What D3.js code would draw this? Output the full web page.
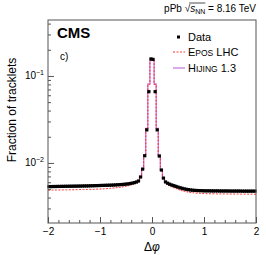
<!DOCTYPE html>
<html>
<head>
<meta charset="utf-8">
<script src="https://cdn.jsdelivr.net/npm/d3@7"></script>
<style>
  body { margin: 0; background: #fff; }
  svg text { font-family: "Liberation Sans", Arial, sans-serif; fill: #000; }
</style>
</head>
<body>
<svg id="chart" width="266" height="255"></svg>
<script>
// bin edges: 100 bins of 0.04 between -2 and 2
var binLo = -2, binW = 0.04;

// measured data, left half (-1.98 .. -0.02) then right half (0.02 .. 1.98)
var dataVals = [
  0.00535, 0.00535, 0.00536, 0.00536, 0.00537, 0.00537, 0.00538, 0.00538, 0.00539, 0.00539,
  0.00540, 0.00540, 0.00541, 0.00541, 0.00542, 0.00542, 0.00543, 0.00544, 0.00544, 0.00545,
  0.00546, 0.00547, 0.00548, 0.00549, 0.00550, 0.00551, 0.00552, 0.00553, 0.00554, 0.00555,
  0.00556, 0.00557, 0.00559, 0.00561, 0.00563, 0.00565, 0.00568, 0.00571, 0.00575, 0.00580,
  0.00586, 0.00594, 0.00604, 0.00620, 0.0069, 0.0085, 0.0121, 0.024, 0.066, 0.157,
  0.155, 0.066, 0.024, 0.0120, 0.0083, 0.0067, 0.00605, 0.00585, 0.00570, 0.00558,
  0.00548, 0.00538, 0.00528, 0.00519, 0.00511, 0.00504, 0.00498, 0.00493, 0.00489, 0.00486,
  0.00484, 0.00482, 0.00481, 0.00480, 0.00479, 0.00478, 0.00478, 0.00478, 0.00477, 0.00477,
  0.00477, 0.00477, 0.00476, 0.00476, 0.00476, 0.00476, 0.00476, 0.00475, 0.00475, 0.00475,
  0.00475, 0.00475, 0.00475, 0.00474, 0.00474, 0.00474, 0.00474, 0.00474, 0.00474, 0.00474
];
var eposVals = [
  0.00488, 0.00488, 0.00488, 0.00489, 0.00489, 0.00489, 0.00490, 0.00490, 0.00490, 0.00491,
  0.00491, 0.00492, 0.00492, 0.00493, 0.00493, 0.00494, 0.00494, 0.00495, 0.00495, 0.00496,
  0.00497, 0.00498, 0.00499, 0.00500, 0.00501, 0.00502, 0.00504, 0.00506, 0.00508, 0.00510,
  0.00512, 0.00515, 0.00518, 0.00521, 0.00525, 0.00529, 0.00534, 0.00540, 0.00547, 0.00555,
  0.00565, 0.00577, 0.00592, 0.00612, 0.0068, 0.0084, 0.0122, 0.025, 0.080, 0.150,
  0.150, 0.080, 0.025, 0.0122, 0.0083, 0.0066, 0.00595, 0.00570, 0.00550, 0.00533,
  0.00519, 0.00507, 0.00497, 0.00488, 0.00480, 0.00473, 0.00467, 0.00462, 0.00458, 0.00455,
  0.00452, 0.00450, 0.00448, 0.00446, 0.00445, 0.00444, 0.00443, 0.00443, 0.00442, 0.00442,
  0.00441, 0.00441, 0.00441, 0.00440, 0.00440, 0.00440, 0.00440, 0.00439, 0.00439, 0.00439,
  0.00439, 0.00439, 0.00438, 0.00438, 0.00438, 0.00438, 0.00438, 0.00438, 0.00437, 0.00437
];
var hijingVals = [
  0.00530, 0.00530, 0.00531, 0.00531, 0.00532, 0.00532, 0.00533, 0.00533, 0.00534, 0.00534,
  0.00535, 0.00535, 0.00536, 0.00536, 0.00537, 0.00537, 0.00538, 0.00539, 0.00539, 0.00540,
  0.00541, 0.00542, 0.00543, 0.00544, 0.00545, 0.00546, 0.00547, 0.00548, 0.00549, 0.00550,
  0.00551, 0.00553, 0.00555, 0.00557, 0.00559, 0.00561, 0.00564, 0.00567, 0.00571, 0.00576,
  0.00582, 0.00590, 0.00601, 0.00617, 0.0069, 0.0086, 0.0124, 0.025, 0.081, 0.152,
  0.152, 0.081, 0.025, 0.0123, 0.0084, 0.0067, 0.00603, 0.00582, 0.00567, 0.00555,
  0.00545, 0.00535, 0.00525, 0.00516, 0.00508, 0.00501, 0.00495, 0.00490, 0.00486, 0.00483,
  0.00481, 0.00479, 0.00478, 0.00477, 0.00476, 0.00475, 0.00475, 0.00475, 0.00474, 0.00474,
  0.00474, 0.00474, 0.00473, 0.00473, 0.00473, 0.00473, 0.00473, 0.00472, 0.00472, 0.00472,
  0.00472, 0.00472, 0.00472, 0.00471, 0.00471, 0.00471, 0.00471, 0.00471, 0.00471, 0.00471
];
var xMajor = [-2, -1, 0, 1, 2];
var yMajor = [0.1, 0.01];
var yLabels = ["\u22121", "\u22122"];

var svg = d3.select("#chart");
var x = d3.scaleLinear().domain([-2, 2]).range([48, 256]);
var y = d3.scaleLog().domain([0.00204, 0.44]).range([223, 20]);

// histogram as steps
function steps(vals) {
  var pts = [];
  vals.forEach(function(v, i) {
    pts.push([binLo + i * binW, v]);
    pts.push([binLo + (i + 1) * binW, v]);
  });
  return pts;
}
var line = d3.line().x(function(d) { return x(d[0]); }).y(function(d) { return y(d[1]); });

var plot = svg.append("g");
plot.append("path").attr("d", line(steps(hijingVals)))
  .attr("fill", "none").attr("stroke", "#c97ee0").attr("stroke-width", 1.3);
plot.append("path").attr("d", line(steps(eposVals)))
  .attr("fill", "none").attr("stroke", "#ff2020").attr("stroke-width", 0.9)
  .attr("stroke-dasharray", "2,1.5");

plot.selectAll("rect.pt").data(dataVals).enter().append("rect")
  .attr("class", "pt")
  .attr("x", function(d, i) { return x(binLo + (i + 0.5) * binW) - 1.6; })
  .attr("y", function(d) { return y(d) - 1.6; })
  .attr("width", 3.2).attr("height", 3.2).attr("fill", "#000");

// axes, ticks pointing inside
var axCol = "#555";
var gx = svg.append("g").attr("transform", "translate(0,223)");
gx.call(d3.axisBottom(x).tickValues(d3.range(-2, 2.001, 0.2)).tickSize(-3).tickFormat(""));
gx.append("g").call(d3.axisBottom(x).tickValues(xMajor).tickSize(-6).tickPadding(5)
  .tickFormat(d3.format("d")));
gx.selectAll("text").attr("font-size", 10).attr("font-family", "Liberation Sans, Arial").attr("fill", "#000");

var minors = [];
[0.001, 0.01, 0.1].forEach(function(dec) {
  for (var k = 2; k <= 9; k++) {
    var v = dec * k;
    if (v >= 0.00204 && v <= 0.44) minors.push(v);
  }
});
var gy = svg.append("g").attr("transform", "translate(48,0)");
gy.call(d3.axisLeft(y).tickValues(minors).tickSize(-3).tickFormat(""));
gy.append("g").call(d3.axisLeft(y).tickValues(yMajor).tickSize(-6).tickFormat(""));

svg.selectAll(".domain").remove();
svg.selectAll(".tick line").attr("stroke", axCol);

// frame
svg.append("rect").attr("x", 48).attr("y", 20).attr("width", 208).attr("height", 203)
  .attr("fill", "none").attr("stroke", axCol).attr("stroke-width", 1);

yMajor.forEach(function(v, i) {
  var t = svg.append("text").attr("x", 44).attr("y", y(v) + 3.5)
    .attr("text-anchor", "end").attr("font-size", 10);
  t.append("tspan").text("10");
  t.append("tspan").attr("dy", -4).attr("font-size", 7).text(yLabels[i]);
});

// axis titles
svg.append("text").attr("x", 152).attr("y", 251).attr("text-anchor", "middle")
  .attr("font-size", 12).html('\u0394<tspan font-style="italic">\u03c6</tspan>');
svg.append("text").attr("transform", "translate(16,110) rotate(-90)")
  .attr("text-anchor", "middle").attr("font-size", 12).text("Fraction of tracklets");

// header
var title = svg.append("text").attr("x", 256).attr("y", 12).attr("text-anchor", "end")
  .attr("font-size", 10);
title.append("tspan").text("pPb ");
title.append("tspan").text("\u221a");
title.append("tspan").attr("font-style", "italic").text("s");
title.append("tspan").attr("dy", 2).attr("font-size", 7).text("NN");
title.append("tspan").attr("dy", -2).text(" = 8.16 TeV");
var tn = title.node();
var x0 = tn.getStartPositionOfChar(5).x, x1 = tn.getEndPositionOfChar(7).x;
svg.append("line").attr("x1", x0 - 1).attr("x2", x1).attr("y1", 3).attr("y2", 3)
  .attr("stroke", "#000").attr("stroke-width", 0.7);

svg.append("text").attr("x", 57).attr("y", 38).attr("font-size", 15)
  .attr("font-weight", "bold").text("CMS");
svg.append("text").attr("x", 60).attr("y", 60).attr("font-size", 10).text("c)");

// legend
var lg = svg.append("g");
lg.append("rect").attr("x", 177).attr("y", 35.5).attr("width", 3).attr("height", 3).attr("fill", "#000");
lg.append("text").attr("x", 188).attr("y", 41).attr("font-size", 11).text("Data");
lg.append("line").attr("x1", 173).attr("x2", 185).attr("y1", 52).attr("y2", 52)
  .attr("stroke", "#ff2020").attr("stroke-width", 0.9).attr("stroke-dasharray", "2,1.5");
var te = lg.append("text").attr("x", 188).attr("y", 56).attr("font-size", 11);
te.append("tspan").text("E");
te.append("tspan").attr("font-size", 8.5).text("POS");
te.append("tspan").text(" LHC");
lg.append("line").attr("x1", 173).attr("x2", 185).attr("y1", 68).attr("y2", 68)
  .attr("stroke", "#c97ee0").attr("stroke-width", 1.3);
var th = lg.append("text").attr("x", 188).attr("y", 72).attr("font-size", 11);
th.append("tspan").text("H");
th.append("tspan").attr("font-size", 8.5).text("IJING");
th.append("tspan").text(" 1.3");
</script>
</body>
</html>
